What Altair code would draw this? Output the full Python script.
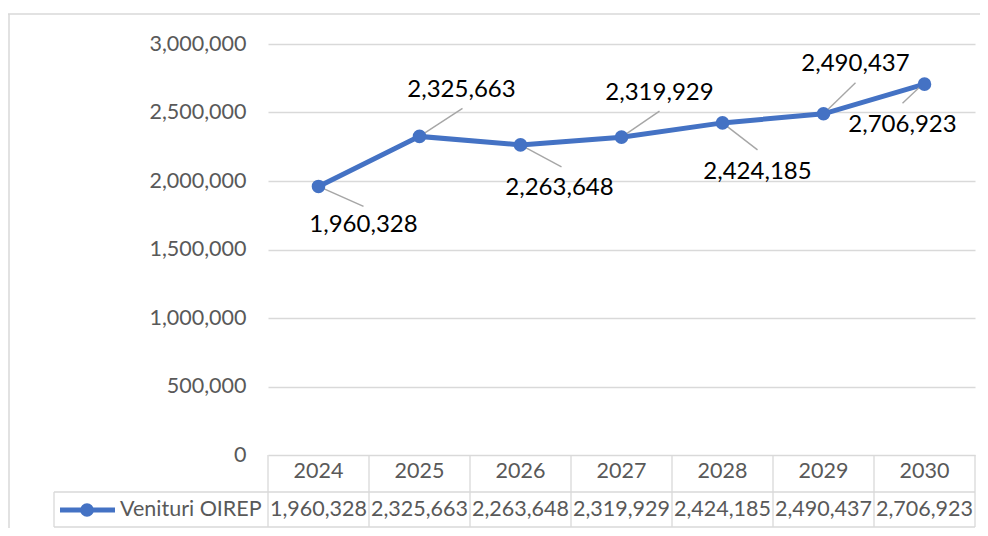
import altair as alt
import pandas as pd

# ---- data ----
years = [2024, 2025, 2026, 2027, 2028, 2029, 2030]
values = [1960328, 2325663, 2263648, 2319929, 2424185, 2490437, 2706923]
y_ticks = [0, 500000, 1000000, 1500000, 2000000, 2500000, 3000000]
series_name = "Venituri OIREP"

# ---- style / label placement (pixel offsets relative to each point) ----
# (label_dx, label_dy, leader_start_dx, leader_start_dy, leader_end_dx, leader_end_dy)
label_offsets = {
    2024: (45, 39, 0, 0, 45, 20),
    2025: (42, -46, 0, 0, 43, -28),
    2026: (39, 43, 0, 0, 41, 22),
    2027: (38, -44, 0, 0, 38, -26),
    2028: (35, 49, 0, 0, 35, 27),
    2029: (32, -50, 0, 0, 32, -31),
    2030: (-22, 41, -5, 3, -22, 19),
}

BLUE = "#4472C4"
GRID = "#D9D9D9"
GRAY_TXT = "#595959"
FONT = "Lato"
TXT_SIZE = 21.5
W, H = 707, 411

df = pd.DataFrame({"year": years, "value": values})
edges = pd.DataFrame({"edge": [y - 0.5 for y in years] + [years[-1] + 0.5]})
one = pd.DataFrame({"name": [series_name]})

xs = alt.Scale(domain=[years[0] - 0.5, years[-1] + 0.5], nice=False, zero=False)
ys = alt.Scale(domain=[y_ticks[0], y_ticks[-1]], nice=False)

X = alt.X("year:Q", scale=xs, axis=None)
Y = alt.Y(
    "value:Q",
    scale=ys,
    axis=alt.Axis(
        values=y_ticks,
        labelExpr="format(datum.value, ',')",
        title=None,
        ticks=False,
        domain=False,
        labelFont=FONT,
        labelFontSize=TXT_SIZE,
        labelColor=GRAY_TXT,
        labelPadding=22,
        gridColor=GRID,
        gridWidth=1.3,
    ),
)

base = alt.Chart(df)

line = base.mark_line(color=BLUE, strokeWidth=5).encode(x=X, y=Y)
pts = base.mark_circle(color=BLUE, size=185, opacity=1).encode(x=X, y=Y)

layers = [line]

# leader lines and data labels
for yr in years:
    ldx, ldy, sx, sy, ex, ey = label_offsets[yr]
    sub = base.transform_filter(alt.datum.year == yr)
    layers.append(
        sub.mark_rule(
            color="#A6A6A6", strokeWidth=1.4,
            xOffset=sx, yOffset=sy, x2Offset=ex, y2Offset=ey,
        ).encode(x=X, y=Y, x2="year:Q", y2="value:Q")
    )
layers.append(pts)
for yr in years:
    ldx, ldy, sx, sy, ex, ey = label_offsets[yr]
    sub = base.transform_filter(alt.datum.year == yr)
    layers.append(
        sub.mark_text(
            dx=ldx, dy=ldy, font=FONT, fontSize=24, color="#000000",
            align="center", baseline="middle",
        ).encode(x=X, y=Y, text=alt.Text("value:Q", format=","))
    )

# ---- data table below the plot ----
TBL_TOP, TBL_MID, TBL_BOT = 411, 448, 483
LEG_LEFT = -214

vlines = alt.Chart(edges).mark_rule(color=GRID, strokeWidth=1.3).encode(
    x=alt.X("edge:Q", scale=xs, axis=None),
    y=alt.value(TBL_TOP), y2=alt.value(TBL_BOT),
)
leg_left = alt.Chart(one).mark_rule(color=GRID, strokeWidth=1.3).encode(
    x=alt.value(LEG_LEFT), y=alt.value(TBL_MID), y2=alt.value(TBL_BOT)
)
hmid = alt.Chart(one).mark_rule(color=GRID, strokeWidth=1.3).encode(
    x=alt.value(LEG_LEFT), x2=alt.value(W), y=alt.value(TBL_MID)
)
hbot = alt.Chart(one).mark_rule(color=GRID, strokeWidth=1.3).encode(
    x=alt.value(LEG_LEFT), x2=alt.value(W), y=alt.value(TBL_BOT)
)
hdr = base.mark_text(font=FONT, fontSize=TXT_SIZE, color=GRAY_TXT, baseline="middle").encode(
    x=X, y=alt.value(428), text=alt.Text("year:N")
)
vals = base.mark_text(font=FONT, fontSize=TXT_SIZE, color=GRAY_TXT, baseline="middle").encode(
    x=X, y=alt.value(466), text=alt.Text("value:Q", format=",")
)
leg_line = alt.Chart(one).mark_rule(color=BLUE, strokeWidth=5).encode(
    x=alt.value(-208), x2=alt.value(-153), y=alt.value(466)
)
leg_dot = alt.Chart(one).mark_circle(color=BLUE, size=185, opacity=1).encode(
    x=alt.value(-181), y=alt.value(466)
)
leg_txt = alt.Chart(one).mark_text(
    font=FONT, fontSize=TXT_SIZE, color=GRAY_TXT, align="left", baseline="middle"
).encode(x=alt.value(-148), y=alt.value(466), text="name:N")

# outer chart border (top and left)
border_top = alt.Chart(one).mark_rule(color=GRID, strokeWidth=1.5).encode(
    x=alt.value(-260), x2=alt.value(W + 5), y=alt.value(-30)
)
border_left = alt.Chart(one).mark_rule(color=GRID, strokeWidth=1.5).encode(
    x=alt.value(-259), y=alt.value(-30), y2=alt.value(H + 73)
)

chart = alt.layer(
    *layers, vlines, leg_left, hmid, hbot, hdr, vals, leg_line, leg_dot, leg_txt,
    border_top, border_left,
).properties(
    width=W, height=H,
    autosize=alt.AutoSizeParams(type="none"),
    padding={"left": 260, "top": 36, "right": 5, "bottom": 73},
    background="white",
).configure_view(stroke=None)

chart.save("out.html", embed_options={"renderer": "svg", "actions": False})
